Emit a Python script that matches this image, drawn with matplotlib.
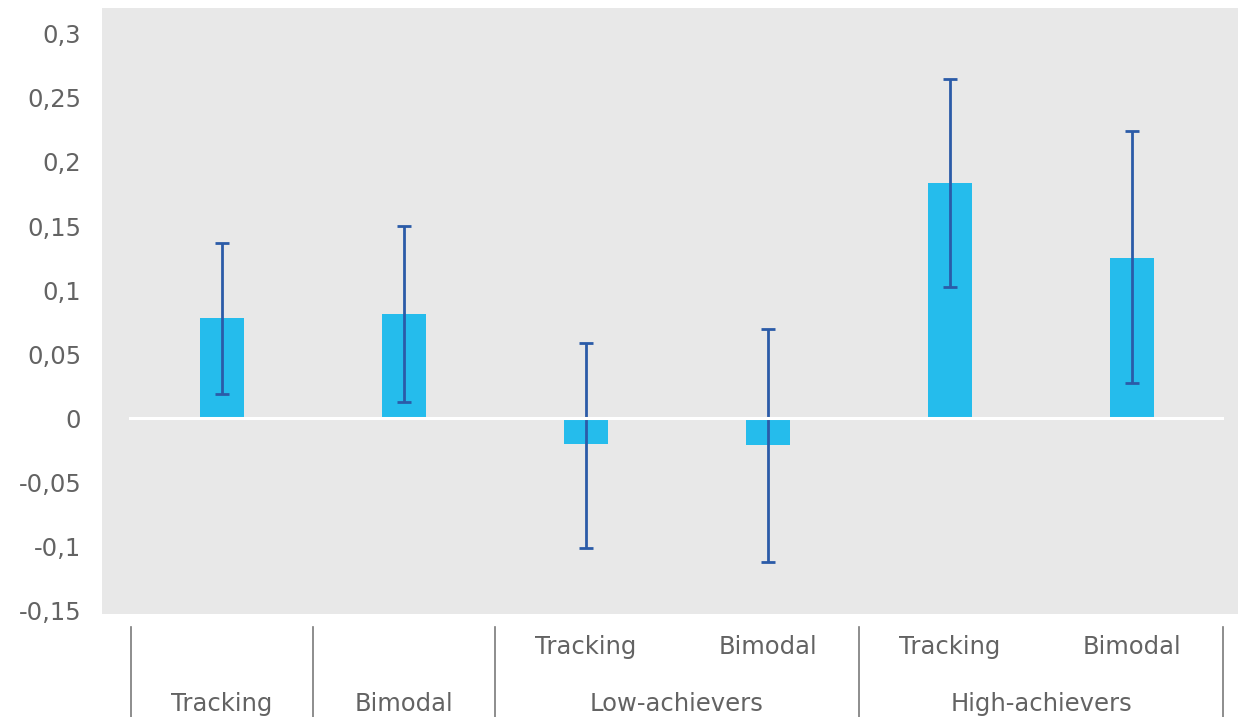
import matplotlib
matplotlib.use("Agg")
import matplotlib.pyplot as plt
import matplotlib.transforms as mtransforms
import numpy as np

# Data
bar_labels = ["Tracking", "Bimodal", "Tracking", "Bimodal", "Tracking", "Bimodal"]
values = [0.078, 0.081, -0.0205, -0.021, 0.1835, 0.125]
err_low = [0.059, 0.0685, 0.081, 0.0915, 0.081, 0.098]
err_high = [0.059, 0.069, 0.079, 0.0905, 0.081, 0.099]
group_labels = ["Low-achievers", "High-achievers"]
yticks = [-0.15, -0.1, -0.05, 0, 0.05, 0.1, 0.15, 0.2, 0.25, 0.3]
ytick_labels = ["-0,15", "-0,1", "-0,05", "0", "0,05", "0,1", "0,15", "0,2", "0,25", "0,3"]

W, H = 1238, 717
fig = plt.figure(figsize=(W / 100, H / 100), dpi=100)
fig.patch.set_facecolor("white")
ax = fig.add_axes([102 / W, (H - 614) / H, (W - 102) / W, (614 - 8) / H])
ax.set_facecolor("#E8E8E8")
for s in ax.spines.values():
    s.set_visible(False)

font = "DejaVu Sans"
fw = "normal"
fs = 17.5
txtc = "#636363"
x = np.arange(len(values))

ax.bar(x, values, width=0.245, color="#25BCEC", zorder=2)
ax.errorbar(x, values, yerr=[err_low, err_high], fmt="none", ecolor="#2B5BA8",
            elinewidth=2, capsize=5, capthick=2, zorder=3)
ax.plot([-0.505, 5.495], [0, 0], color="white", lw=2.2, zorder=4)

ax.set_xlim(-0.659, 5.582)
ax.set_ylim(-0.1531, 0.3203)
ax.set_xticks([])
ax.set_yticks(yticks)
ax.set_yticklabels(ytick_labels, fontsize=fs, color=txtc, family=font, weight=fw)
ax.tick_params(axis="y", length=0, pad=15)

trans = mtransforms.blended_transform_factory(ax.transData, fig.transFigure)

def fy(p):
    return 1 - p / H

# dividers
for b in [-0.5, 0.5, 1.5, 3.5, 5.5]:
    ax.plot([b, b], [fy(627), fy(717)], transform=trans, color="#7a7a7a",
            lw=1.2, clip_on=False)

# category labels
for i, lab in enumerate(bar_labels):
    yy = fy(704) if i < 2 else fy(647)
    ax.text(x[i], yy, lab, transform=trans, ha="center", va="center",
            fontsize=fs, color=txtc, family=font, weight=fw, clip_on=False)

for g, xc in zip(group_labels, [2.5, 4.5]):
    ax.text(xc, fy(704), g, transform=trans, ha="center", va="center",
            fontsize=fs, color=txtc, family=font, weight=fw, clip_on=False)

fig.savefig("out.png", dpi=100)
